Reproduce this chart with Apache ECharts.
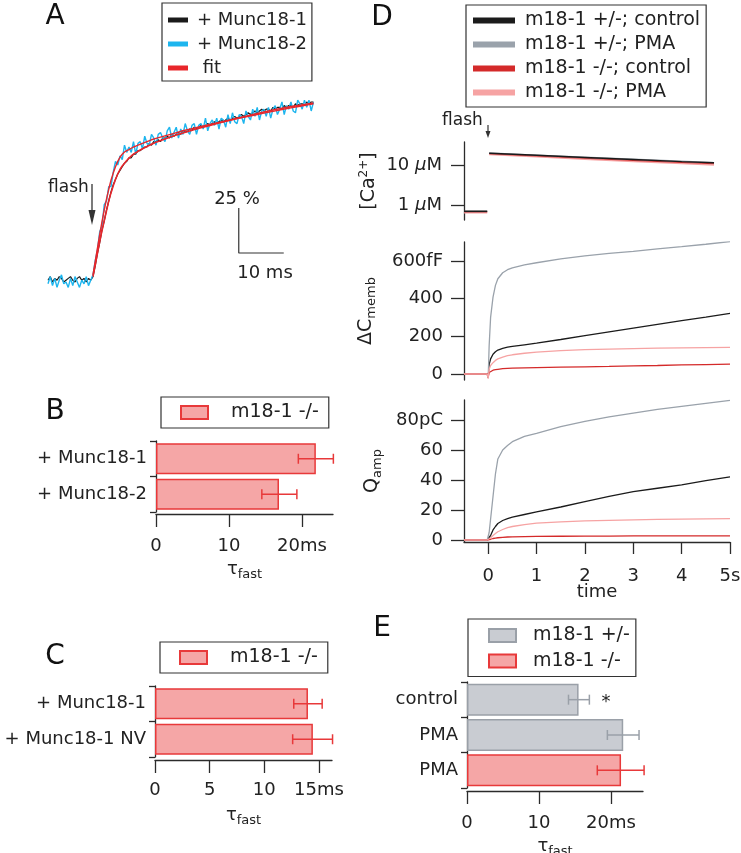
<!DOCTYPE html>
<html><head><meta charset="utf-8">
<script src="https://cdn.jsdelivr.net/npm/echarts@6/dist/echarts.min.js"></script>
<style>html,body{margin:0;padding:0;background:#fff}#c{width:741px;height:853px}</style>
</head><body><div id="c"></div>
<script>
// ---------------- Panel A (normalized trace, %) ----------------
const tA = [-10,-9.5,-9,-8.5,-8,-7.5,-7,-6.5,-6,-5.5,-5,-4.5,-4,-3.5,-3,-2.5,-2,-1.5,-1,-0.5,
 0,0.5,1,1.5,2,2.5,3,3.5,4,4.5,5,5.5,6,6.5,7,7.5,8,8.5,9,9.5,10,10.5,11,11.5,12,12.5,13,13.5,14,14.5,
 15,15.5,16,16.5,17,17.5,18,18.5,19,19.5,20,20.5,21,21.5,22,22.5,23,23.5,24,24.5,25,25.5,26,26.5,27,27.5,
 28,28.5,29,29.5,30,30.5,31,31.5,32,32.5,33,33.5,34,34.5,35,35.5,36,36.5,37,37.5,38,38.5,39,39.5,40,40.5,
 41,41.5,42,42.5,43,43.5,44,44.5,45,45.5,46,46.5,47,47.5,48,48.5,49];
const munc181A = [1,3,0,2,1,3,2,0,1,2,3,1,0,2,3,1,2,0,2,1,
 3,9,16,22,29,34,40,45,50,54,57,60,62,64,66,67,69,69,71,71,73,73,74,75,75,77,76,78,78,79,
 78,80,80,81,80,82,81,82,83,82,84,83,84,85,84,86,85,86,87,86,87,88,87,88,89,88,
 89,90,89,90,91,90,91,92,91,92,93,92,93,94,93,94,95,94,95,96,95,96,96,95,97,96,
 97,97,96,98,97,98,98,97,99,98,99,99,98,100,99,100,100];
const munc182A = [-1,3,-2,2,-3,1,4,-1,0,-3,2,-2,3,0,-3,1,-1,3,-2,1,
 4,12,18,28,31,43,45,53,53,61,67,65,70,68,76,72,75,72,78,71,77,78,74,81,77,76,82,80,76,82,
 83,80,78,84,86,80,83,86,80,85,82,88,84,82,87,88,82,87,88,85,91,84,88,90,87,91,
 85,91,90,86,93,88,94,89,88,93,92,88,95,92,90,96,92,97,90,95,96,92,97,91,96,98,
 93,96,100,93,98,96,100,95,94,101,99,96,101,97,101,95,100];
const tFit = [0,0.5,1,1.5,2,2.5,3,3.5,4,4.5,5,5.5,6,6.5,7,7.5,8,8.5,9,9.5,10,11,12,13,14,16,18,20,22,24,26,28,30,32,34,36,38,40,42,44,46,48,49];
const fitA1 = [3,9.5,16,22.5,28.5,34,39.5,45,49.5,53.5,57,60,62.5,64.5,66,67.5,68.8,70,71,71.8,72.6,74,75.3,76.5,77.6,79.5,81.2,82.8,84.3,85.7,87,88.3,89.6,90.9,92.1,93.3,94.4,95.5,96.5,97.4,98.2,99,99.4];
const fitA2 = [4,11.5,19,26.5,33.5,40,46,51.5,56.5,60.5,64,67,69.3,71,72.2,73,73.5,74.3,75,75.5,76,77,78,79,79.8,81.2,82.6,84,85.2,86.4,87.5,88.6,89.7,90.8,91.8,92.8,93.8,94.8,95.8,96.7,97.6,98.5,99];
const scaleMs = 10, scalePct = 25;          // scale bar values
const scaleAnchor = [32.4, 16.1];           // corner of the scale bar (ms, %)

// ---------------- Panel B ----------------
const catB = ['+ Munc18-1', '+ Munc18-2'];
const tauB = [21.9, 16.85];
const errLoB = [19.5, 14.5];
const errHiB = [24.3, 19.3];
const ticksB = [0, 10, 20];

// ---------------- Panel C ----------------
const catC = ['+ Munc18-1', '+ Munc18-1 NV'];
const tauC = [14.0, 14.45];
const errLoC = [12.7, 12.6];
const errHiC = [15.3, 16.25];
const ticksC = [0, 5, 10, 15];

// ---------------- Panel E ----------------
const catE = ['control', 'PMA', 'PMA'];
const tauEhet = [15.5, 21.7, '-'];
const tauEko = ['-', '-', 21.4];
const errLoE = [14.1, 19.5, 18.1];
const errHiE = [17.0, 23.9, 24.6];
const ticksE = [0, 10, 20];

// ---------------- Panel D ----------------
const namesD = ['m18-1 +/-; control', 'm18-1 +/-; PMA', 'm18-1 -/-; control', 'm18-1 -/-; PMA'];
const tCa = [-0.5, -0.02, 0, 0.02, 1, 2, 3, 4, 4.67];
const caHetCtl = [0.73, 0.73, null, 19.5, 17.3, 15.3, 13.6, 12.1, 11.3];
const caHetPma = [0.72, 0.72, null, 19.8, 17.5, 15.5, 13.8, 12.3, 11.4];
const caKoCtl  = [0.71, 0.71, null, 19.0, 16.8, 14.8, 13.1, 11.7, 10.9];
const caKoPma  = [0.67, 0.67, null, 18.0, 15.8, 13.8, 12.2, 10.9, 10.0];
const tD = [-0.5,-0.3,-0.1,-0.02,0,0.02,0.05,0.1,0.15,0.2,0.3,0.4,0.5,0.75,1,1.5,2,2.5,3,3.5,4,4.5,5];
const cmHetCtl = [0,0,0,0,-20,50,80,105,118,127,136,142,146,155,164,183,203,223,243,263,283,302,322];
const cmHetPma = [0,0,0,0,-20,150,300,408,470,505,537,553,563,579,590,610,626,640,650,663,675,688,702];
const cmKoCtl  = [0,0,0,0,-15,8,14,20,23,25,28,30,31,33,34,36,38,40,43,45,48,50,52];
const cmKoPma  = [0,0,0,0,-25,25,45,60,72,80,90,97,102,110,116,124,129,132,135,137,139,140,141];
const qHetCtl = [0,0,0,0,0,1,3,6.7,9,11,13,14.3,15.3,17,18.7,22,25.6,29,32.2,34.5,36.7,39.5,42];
const qHetPma = [0,0,0,0,0,5,14,29,44,54,60,63,65.5,69,71,75.5,79,82,84.5,87,89,91,93];
const qKoCtl  = [0,0,0,0,0,0.2,0.5,1,1.3,1.5,1.8,2,2.1,2.3,2.4,2.5,2.6,2.6,2.7,2.7,2.7,2.7,2.8];
const qKoPma  = [0,0,0,0,0,0.5,1.5,3,4.3,5.5,7,8.2,9,10.3,11.2,12.1,12.7,13.1,13.4,13.7,13.9,14.1,14.2];
const ticksTime = [0, 1, 2, 3, 4, 5];
const ticksCa = [1, 10];
const ticksCm = [0, 200, 400, 600];
const ticksQ = [0, 20, 40, 60, 80];

// ---------------- styling ----------------
const FF = '"DejaVu Sans", sans-serif';
const TXT = '#222';
const AXC = '#2b2b2b';
const colD = ['#1b1b1b', '#9aa2ab', '#d42a2a', '#f6a3a3'];
const redFill = '#f5a6a6', redLine = '#e8393a';
const grayFill = '#c9ccd2', grayLine = '#9aa0a8';
const pairs = (t, v) => t.map((x, i) => [x, v[i]]);

const axLine = {show: true, onZero: false, lineStyle: {color: AXC, width: 1.3}};
const tickStyle = {color: AXC, width: 1.3};
const lbl = {fontSize: 18, fontFamily: FF, color: TXT};
const tauName = {
  name: '{t|τ}{s|fast}', nameLocation: 'middle', nameMoveOverlap: false,
  nameTextStyle: {fontFamily: FF, color: TXT, fontSize: 18,
    rich: {t: {fontSize: 18, fontFamily: FF, color: TXT},
           s: {fontSize: 13, fontFamily: FF, color: TXT, verticalAlign: 'bottom', padding: [10, 0, 0, 0]}}}
};

function errRender(colors) {
  return function (params, api) {
    const c = api.value(0), lo = api.value(1), hi = api.value(2);
    const p1 = api.coord([lo, c]), p2 = api.coord([hi, c]);
    const h = 5;
    const st = {stroke: colors[params.dataIndex % colors.length], lineWidth: 1.5};
    return {type: 'group', children: [
      {type: 'line', shape: {x1: p1[0], y1: p1[1], x2: p2[0], y2: p2[1]}, style: st},
      {type: 'line', shape: {x1: p1[0], y1: p1[1] - h, x2: p1[0], y2: p1[1] + h}, style: st},
      {type: 'line', shape: {x1: p2[0], y1: p2[1] - h, x2: p2[0], y2: p2[1] + h}, style: st}
    ]};
  };
}

function barXAxis(grid, max, ticks, lastUnit, margin, nameGap, offset) {
  return Object.assign({
    gridIndex: grid, type: 'value', min: 0, max: max, offset: offset,
    axisLine: axLine, splitLine: {show: false},
    axisTick: {show: true, length: 13, customValues: ticks, lineStyle: tickStyle},
    axisLabel: Object.assign({customValues: ticks, margin: margin,
      formatter: v => (v === ticks[ticks.length - 1] ? v + lastUnit : String(v))}, lbl),
    nameGap: nameGap
  }, tauName);
}
function barYAxis(grid, cats) {
  return {gridIndex: grid, type: 'category', data: cats, inverse: true,
    axisLine: axLine, axisTick: {show: true, length: 6, lineStyle: tickStyle},
    axisLabel: Object.assign({margin: 9}, lbl), splitLine: {show: false}};
}

const legBase = {
  orient: 'vertical', icon: 'rect', selectedMode: false,
  borderColor: '#333', borderWidth: 1.2, backgroundColor: '#fff',
  textStyle: {fontSize: 19, fontFamily: FF, color: TXT}
};

const series = [];
// Panel A
series.push({name: '+ Munc18-1', type: 'line', xAxisIndex: 0, yAxisIndex: 0, data: pairs(tA, munc181A),
  showSymbol: false, lineStyle: {color: '#1a1a1a', width: 1.2}, itemStyle: {color: '#1a1a1a'}, z: 2});
series.push({name: '+ Munc18-2', type: 'line', xAxisIndex: 0, yAxisIndex: 0, data: pairs(tA, munc182A),
  showSymbol: false, lineStyle: {color: '#1db5ee', width: 1.4}, itemStyle: {color: '#1db5ee'}, z: 3});
series.push({name: 'fit', type: 'line', xAxisIndex: 0, yAxisIndex: 0, data: pairs(tFit, fitA1),
  showSymbol: false, lineStyle: {color: '#e8262b', width: 1.6}, itemStyle: {color: '#e8262b'}, z: 4});
series.push({name: 'fit', type: 'line', xAxisIndex: 0, yAxisIndex: 0, data: pairs(tFit, fitA2),
  showSymbol: false, lineStyle: {color: '#e8262b', width: 1.4}, itemStyle: {color: '#e8262b'}, z: 4});
series.push({name: 'scalebar', type: 'line', xAxisIndex: 0, yAxisIndex: 0,
  data: [[scaleAnchor[0], scaleAnchor[1] + scalePct], scaleAnchor, [scaleAnchor[0] + scaleMs, scaleAnchor[1]]],
  showSymbol: false, lineStyle: {color: '#333', width: 1.2}});

// Panel B
series.push({name: 'm18-1 -/-', type: 'bar', xAxisIndex: 1, yAxisIndex: 1, data: tauB, barWidth: 31,
  itemStyle: {color: redFill, borderColor: redLine, borderWidth: 1.5}});
series.push({type: 'custom', xAxisIndex: 1, yAxisIndex: 1, renderItem: errRender([redLine]), z: 5,
  data: catB.map((c, i) => [i, errLoB[i], errHiB[i]]), encode: {x: [1, 2], y: 0}});
// Panel C
series.push({name: 'm18-1 -/-', type: 'bar', xAxisIndex: 2, yAxisIndex: 2, data: tauC, barWidth: 31,
  itemStyle: {color: redFill, borderColor: redLine, borderWidth: 1.5}});
series.push({type: 'custom', xAxisIndex: 2, yAxisIndex: 2, renderItem: errRender([redLine]), z: 5,
  data: catC.map((c, i) => [i, errLoC[i], errHiC[i]]), encode: {x: [1, 2], y: 0}});
// Panel E
series.push({name: 'm18-1 +/-', type: 'bar', xAxisIndex: 3, yAxisIndex: 3, data: tauEhet, barWidth: 32, barGap: '-100%',
  itemStyle: {color: grayFill, borderColor: grayLine, borderWidth: 1.5}});
series.push({name: 'm18-1 -/-', type: 'bar', xAxisIndex: 3, yAxisIndex: 3, data: tauEko, barWidth: 32, barGap: '-100%',
  itemStyle: {color: redFill, borderColor: redLine, borderWidth: 1.5}});
series.push({type: 'custom', xAxisIndex: 3, yAxisIndex: 3, renderItem: errRender([grayLine, grayLine, redLine]), z: 5,
  data: catE.map((c, i) => [i, errLoE[i], errHiE[i]]), encode: {x: [1, 2], y: 0}});

// Panel D
const caSets = [caHetCtl, caHetPma, caKoCtl, caKoPma];
const cmSets = [cmHetCtl, cmHetPma, cmKoCtl, cmKoPma];
const qSets = [qHetCtl, qHetPma, qKoCtl, qKoPma];
const caOrder = [3, 2, 1, 0];
caOrder.forEach(k => series.push({name: namesD[k], type: 'line', xAxisIndex: 4, yAxisIndex: 4,
  data: pairs(tCa, caSets[k]), showSymbol: false, connectNulls: false,
  lineStyle: {color: colD[k], width: 1.4}, itemStyle: {color: colD[k]}}));
[0, 1, 2, 3].forEach(k => series.push({name: namesD[k], type: 'line', xAxisIndex: 5, yAxisIndex: 5,
  data: pairs(tD, cmSets[k]), showSymbol: false,
  lineStyle: {color: colD[k], width: 1.3}, itemStyle: {color: colD[k]}}));
[0, 1, 2, 3].forEach(k => series.push({name: namesD[k], type: 'line', xAxisIndex: 6, yAxisIndex: 6,
  data: pairs(tD, qSets[k]), showSymbol: false,
  lineStyle: {color: colD[k], width: 1.3}, itemStyle: {color: colD[k]}}));

const hiddenX = (g, mn, mx) => ({gridIndex: g, type: 'value', min: mn, max: mx, show: false,
  axisLine: {onZero: false}, splitLine: {show: false}});

const yNameStyle = (rich) => ({fontFamily: FF, color: TXT, fontSize: 19, rich: rich});

const option = {
  animation: false,
  textStyle: {fontFamily: FF},
  grid: [
    {left: 48, top: 100, width: 265, height: 190},
    {left: 156, top: 441, width: 177, height: 71},
    {left: 155, top: 686, width: 177, height: 71},
    {left: 467, top: 682, width: 176, height: 106},
    {left: 464, top: 142, width: 266, height: 78},
    {left: 464, top: 242, width: 266, height: 138},
    {left: 464, top: 400, width: 266, height: 142}
  ].map(g => Object.assign({containLabel: false, outerBoundsMode: 'none'}, g)),
  xAxis: [
    hiddenX(0, -10, 48.9),
    barXAxis(1, 24.25, ticksB, 'ms', 23, 44, 2),
    barXAxis(2, 16.2, ticksC, 'ms', 21, 44, 3),
    barXAxis(3, 24.45, ticksE, 'ms', 23, 44, 3),
    hiddenX(4, -0.5, 5),
    hiddenX(5, -0.5, 5),
    {gridIndex: 6, type: 'value', min: -0.5, max: 5, axisLine: axLine, splitLine: {show: false},
      axisTick: {show: true, length: 12, customValues: ticksTime, lineStyle: tickStyle},
      axisLabel: Object.assign({customValues: ticksTime, margin: 25,
        formatter: v => (v === 5 ? '5s' : String(v))}, lbl),
      name: 'time', nameLocation: 'middle', nameGap: 41, nameMoveOverlap: false,
      nameTextStyle: {fontFamily: FF, color: TXT, fontSize: 18}}
  ],
  yAxis: [
    {gridIndex: 0, type: 'value', min: -4.44, max: 101.1, show: false, axisLine: {onZero: false}, splitLine: {show: false}},
    barYAxis(1, catB),
    barYAxis(2, catC),
    barYAxis(3, catE),
    {gridIndex: 4, type: 'log', logBase: 10, min: 0.445, max: 36.7, axisLine: axLine, splitLine: {show: false},
      axisTick: {show: true, length: 13, customValues: ticksCa, lineStyle: tickStyle},
      axisLabel: {customValues: ticksCa, margin: 22, fontSize: 18, fontFamily: FF, color: TXT,
        formatter: v => (v > 5 ? '{n|10 }{i|μ}{n|M}' : '{n|1 }{i|μ}{n|M}'),
        rich: {n: {fontSize: 18, fontFamily: FF, color: TXT}, i: {fontSize: 18, fontFamily: FF, color: TXT, fontStyle: 'italic'}}},
      name: '{a|[Ca}{p|2+}{a|]}', nameLocation: 'middle', nameRotate: 90, nameGap: 84, nameMoveOverlap: false,
      nameTextStyle: yNameStyle({a: {fontSize: 19, fontFamily: FF, color: TXT},
        p: {fontSize: 12, fontFamily: FF, color: TXT, verticalAlign: 'top', padding: [0, 0, 10, 0]}})},
    {gridIndex: 5, type: 'value', min: -31.8, max: 700, axisLine: axLine, splitLine: {show: false},
      axisTick: {show: true, length: 13, customValues: ticksCm, lineStyle: tickStyle},
      axisLabel: Object.assign({customValues: ticksCm, margin: 21,
        formatter: v => (v === 600 ? '600fF' : String(v))}, lbl),
      name: '{a|ΔC}{b|memb}', nameLocation: 'middle', nameRotate: 90, nameGap: 86, nameMoveOverlap: false,
      nameTextStyle: yNameStyle({a: {fontSize: 19, fontFamily: FF, color: TXT},
        b: {fontSize: 13, fontFamily: FF, color: TXT, verticalAlign: 'bottom', padding: [10, 0, 0, 0]}})},
    {gridIndex: 6, type: 'value', min: -1.33, max: 93.3, axisLine: axLine, splitLine: {show: false},
      axisTick: {show: true, length: 13, customValues: ticksQ, lineStyle: tickStyle},
      axisLabel: Object.assign({customValues: ticksQ, margin: 21,
        formatter: v => (v === 80 ? '80pC' : String(v))}, lbl),
      name: '{a|Q}{b|amp}', nameLocation: 'middle', nameRotate: 90, nameGap: 80, nameMoveOverlap: false,
      nameTextStyle: yNameStyle({a: {fontSize: 19, fontFamily: FF, color: TXT},
        b: {fontSize: 13, fontFamily: FF, color: TXT, verticalAlign: 'bottom', padding: [10, 0, 0, 0]}})}
  ],
  legend: [
    Object.assign({}, legBase, {data: ['+ Munc18-1', '+ Munc18-2', 'fit'], left: 162, top: 3,
      itemWidth: 20, itemHeight: 5, itemGap: 6, padding: [8, 5, 4, 6],
      formatter: n => (n === 'fit' ? ' fit' : n),
      textStyle: {fontSize: 18, fontFamily: FF, color: TXT, padding: [0, 0, 0, 4]}}),
    Object.assign({}, legBase, {data: [{name: 'm18-1 -/-', itemStyle: {color: redFill, borderColor: redLine, borderWidth: 2}}],
      left: 161, top: 397, itemWidth: 27, itemHeight: 13, padding: [6, 10, 6, 19],
      textStyle: {fontSize: 19, fontFamily: FF, color: TXT, padding: [0, 0, 0, 18]}}),
    Object.assign({}, legBase, {data: [{name: 'm18-1 -/-', itemStyle: {color: redFill, borderColor: redLine, borderWidth: 2}}],
      left: 160, top: 642, itemWidth: 27, itemHeight: 13, padding: [6, 10, 6, 19],
      textStyle: {fontSize: 19, fontFamily: FF, color: TXT, padding: [0, 0, 0, 18]}}),
    Object.assign({}, legBase, {data: [
        {name: 'm18-1 +/-', itemStyle: {color: grayFill, borderColor: grayLine, borderWidth: 2}},
        {name: 'm18-1 -/-', itemStyle: {color: redFill, borderColor: redLine, borderWidth: 2}}],
      left: 468, top: 619, itemWidth: 27, itemHeight: 13, itemGap: 6.5, padding: [7, 6, 6, 20],
      textStyle: {fontSize: 19, fontFamily: FF, color: TXT, padding: [0, 0, 0, 12]}}),
    Object.assign({}, legBase, {data: namesD, left: 466, top: 5,
      itemWidth: 42, itemHeight: 6, itemGap: 5, padding: [6, 6, 5, 7],
      textStyle: {fontSize: 19, fontFamily: FF, color: TXT, padding: [0, 0, 0, 5]}})
  ],
  graphic: [
    {type: 'text', x: 55, y: 17, style: {text: 'A', fontSize: 28, fontFamily: FF, fill: '#111', align: 'center', verticalAlign: 'middle'}},
    {type: 'text', x: 55, y: 412, style: {text: 'B', fontSize: 28, fontFamily: FF, fill: '#111', align: 'center', verticalAlign: 'middle'}},
    {type: 'text', x: 55, y: 657, style: {text: 'C', fontSize: 28, fontFamily: FF, fill: '#111', align: 'center', verticalAlign: 'middle'}},
    {type: 'text', x: 382, y: 18, style: {text: 'D', fontSize: 28, fontFamily: FF, fill: '#111', align: 'center', verticalAlign: 'middle'}},
    {type: 'text', x: 382, y: 629, style: {text: 'E', fontSize: 28, fontFamily: FF, fill: '#111', align: 'center', verticalAlign: 'middle'}},
    {type: 'text', x: 48, y: 188, style: {text: 'flash', fontSize: 17, fontFamily: FF, fill: TXT, align: 'left', verticalAlign: 'middle'}},
    {type: 'line', shape: {x1: 92, y1: 184, x2: 92, y2: 214}, style: {stroke: '#333', lineWidth: 1.3}},
    {type: 'polygon', shape: {points: [[88.5, 210], [95.5, 210], [92, 225]]}, style: {fill: '#333'}},
    {type: 'text', x: 237, y: 199, style: {text: '25 %', fontSize: 18, fontFamily: FF, fill: TXT, align: 'center', verticalAlign: 'middle'}},
    {type: 'text', x: 265, y: 273, style: {text: '10 ms', fontSize: 18, fontFamily: FF, fill: TXT, align: 'center', verticalAlign: 'middle'}},
    {type: 'text', x: 442, y: 121, style: {text: 'flash', fontSize: 17, fontFamily: FF, fill: TXT, align: 'left', verticalAlign: 'middle'}},
    {type: 'line', shape: {x1: 488, y1: 125, x2: 488, y2: 133}, style: {stroke: '#333', lineWidth: 1.2}},
    {type: 'polygon', shape: {points: [[485.5, 131], [490.5, 131], [488, 138]]}, style: {fill: '#333'}},
    {type: 'text', x: 606, y: 702, style: {text: '*', fontSize: 18, fontFamily: FF, fill: TXT, align: 'center', verticalAlign: 'middle'}}
  ],
  series: series
};

const chart = echarts.init(document.getElementById('c'), null, {renderer: 'canvas'});
chart.setOption(option);
</script></body></html>
